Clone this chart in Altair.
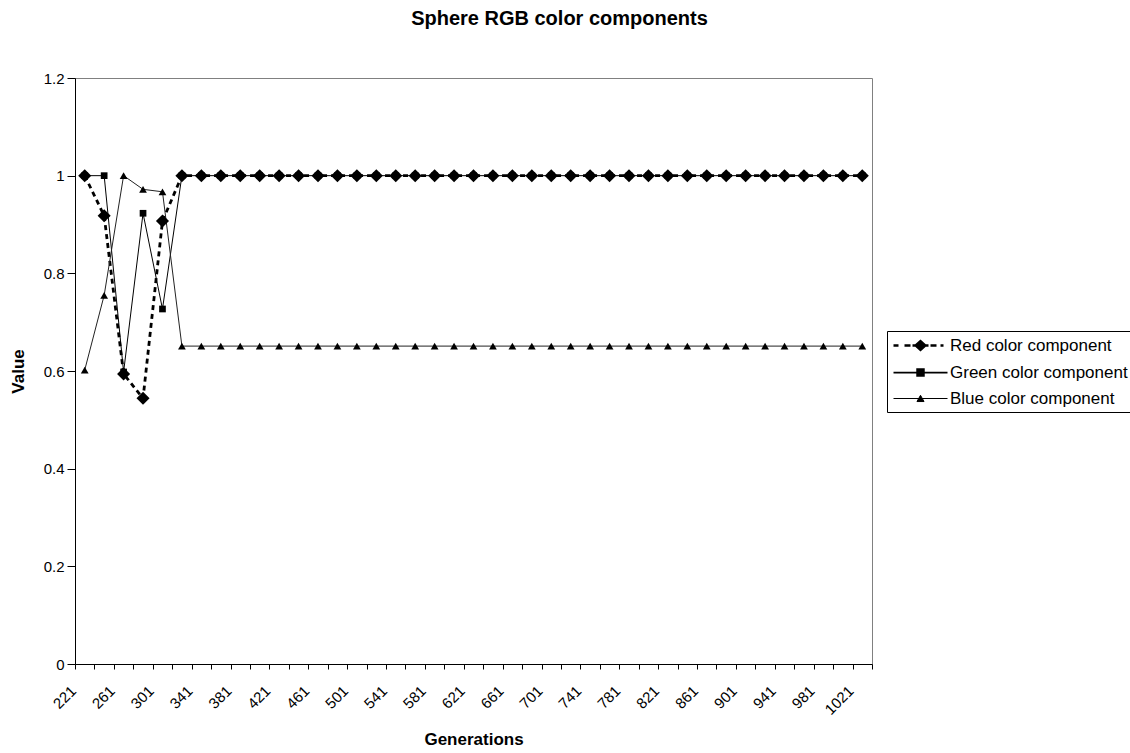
import altair as alt
import pandas as pd

generations = [221, 241, 261, 281, 301, 321, 341, 361, 381, 401, 421, 441, 461, 481,
               501, 521, 541, 561, 581, 601, 621, 641, 661, 681, 701, 721, 741, 761,
               781, 801, 821, 841, 861, 881, 901, 921, 941, 961, 981, 1001, 1021]

red = [1.0, 0.918, 0.594, 0.544, 0.907, 1.0, 1.0, 1.0, 1.0, 1.0, 1.0, 1.0, 1.0, 1.0,
       1.0, 1.0, 1.0, 1.0, 1.0, 1.0, 1.0, 1.0, 1.0, 1.0, 1.0, 1.0, 1.0, 1.0,
       1.0, 1.0, 1.0, 1.0, 1.0, 1.0, 1.0, 1.0, 1.0, 1.0, 1.0, 1.0, 1.0]
green = [1.0, 1.0, 0.598, 0.923, 0.727, 1.0, 1.0, 1.0, 1.0, 1.0, 1.0, 1.0, 1.0, 1.0,
         1.0, 1.0, 1.0, 1.0, 1.0, 1.0, 1.0, 1.0, 1.0, 1.0, 1.0, 1.0, 1.0, 1.0,
         1.0, 1.0, 1.0, 1.0, 1.0, 1.0, 1.0, 1.0, 1.0, 1.0, 1.0, 1.0, 1.0]
blue = [0.602, 0.755, 1.0, 0.972, 0.967, 0.651, 0.651, 0.651, 0.651, 0.651, 0.651,
        0.651, 0.651, 0.651, 0.651, 0.651, 0.651, 0.651, 0.651, 0.651, 0.651, 0.651,
        0.651, 0.651, 0.651, 0.651, 0.651, 0.651, 0.651, 0.651, 0.651, 0.651, 0.651,
        0.651, 0.651, 0.651, 0.651, 0.651, 0.651, 0.651, 0.651]

series_names = ["Red color component", "Green color component", "Blue color component"]
y_ticks = [0, 0.2, 0.4, 0.6, 0.8, 1.0, 1.2]

rows = []
for name, vals in zip(series_names, [red, green, blue]):
    for g, v in zip(generations, vals):
        rows.append({"Generation": g, "Value": v, "Series": name})
df = pd.DataFrame(rows)

step = generations[1] - generations[0]
x_lo = generations[0] - step / 2
x_hi = generations[-1] + step / 2
x_bounds = [g - step / 2 for g in generations] + [x_hi]

FONT = "Liberation Sans"

x_enc = alt.X(
    "Generation:Q",
    scale=alt.Scale(domain=[x_lo, x_hi], nice=False, zero=False),
    axis=alt.Axis(
        values=x_bounds,
        labelExpr=f"((datum.value - {x_lo}) % {2*step} == 0) && datum.value < {x_hi} ? '' + (datum.value + {step/2}) : ''",
        labelAngle=-45, labelAlign="right", labelBaseline="middle",
        labelOffset=-2, labelPadding=19, tickSize=5, labelOverlap=False, labelFlush=False,
        title="Generations", titlePadding=14,
    ),
)
y_enc = alt.Y(
    "Value:Q",
    scale=alt.Scale(domain=[0, 1.2], nice=False, zero=True),
    axis=alt.Axis(
        values=y_ticks, labelExpr="format(datum.value, '.1~f')",
        tickSize=8, labelPadding=3, title="Value", titlePadding=16,
    ),
)

base = alt.Chart(df).encode(x=x_enc, y=y_enc)

def sel(name):
    return alt.datum.Series == name

red_line = base.transform_filter(sel(series_names[0])).mark_line(
    color="black", strokeWidth=2.8, strokeDash=[5, 4])
green_line = base.transform_filter(sel(series_names[1])).mark_line(
    color="black", strokeWidth=1)
blue_line = base.transform_filter(sel(series_names[2])).mark_line(
    color="#222222", strokeWidth=1)

blue_pts = base.transform_filter(sel(series_names[2])).mark_point(
    shape="triangle-up", filled=True, color="black", size=60, opacity=1)
green_pts = base.transform_filter(sel(series_names[1])).mark_point(
    shape="square", filled=True, color="black", size=45, opacity=1)
red_pts = base.transform_filter(sel(series_names[0])).mark_point(
    shape="diamond", filled=True, color="black", size=170, opacity=1)

# legend symbols: line + marker, in units of 8 px
red_sym = ("M-1,0H-0.375M0.375,0H1.125M1.375,0H3.375"
           "M1.775,0L2.375,-0.55L2.975,0L2.375,0.55Z"
           "M3.625,0H4.375M4.875,0H5.25")
green_sym = "M-1,0H5.75M1.955,-0.42H2.795V0.42H1.955Z"
blue_sym = "M-1,0H5.75M1.935,0.38L2.375,-0.4L2.815,0.38Z"

leg = alt.Legend(
    title=None, orient="none", legendX=812, legendY=253,
    symbolSize=256, labelFontSize=17, labelFont=FONT, labelColor="black",
    labelOffset=39, rowPadding=8.5, padding=5, strokeColor="black",
    fillColor="white", labelLimit=400, cornerRadius=0,
)

black3 = ["black", "black", "black"]
legend_layer = base.transform_filter("false").mark_point(
    filled=True, size=256, opacity=1
).encode(
    shape=alt.Shape("Series:N", scale=alt.Scale(domain=series_names,
                                                range=[red_sym, green_sym, blue_sym]),
                    legend=leg),
    strokeWidth=alt.StrokeWidth("Series:N", scale=alt.Scale(domain=series_names,
                                                            range=[2.5, 1, 1]),
                                legend=leg),
    stroke=alt.Stroke("Series:N", scale=alt.Scale(domain=series_names, range=black3),
                      legend=leg),
    fill=alt.Fill("Series:N", scale=alt.Scale(domain=series_names, range=black3),
                  legend=leg),
)

chart = alt.layer(
    red_line, green_line, blue_line, blue_pts, green_pts, red_pts, legend_layer
).properties(
    width=797, height=586,
    padding={"left": 75, "top": 78, "right": 258, "bottom": 89},
    autosize=alt.AutoSizeParams(type="none"),
    title=alt.Title("Sphere RGB color components", fontSize=20, font=FONT,
                    fontWeight="bold", anchor="middle", dx=86, offset=42,
                    color="black"),
).configure_view(
    stroke="#808080", strokeWidth=1
).configure_axis(
    grid=False, domainColor="black", tickColor="black", labelColor="black",
    titleColor="black", labelFont=FONT, titleFont=FONT, labelFontSize=15,
    titleFontSize=17, titleFontWeight="bold", domainWidth=1, tickWidth=1,
)

chart.save("out.html", embed_options={"renderer": "svg", "actions": False})
